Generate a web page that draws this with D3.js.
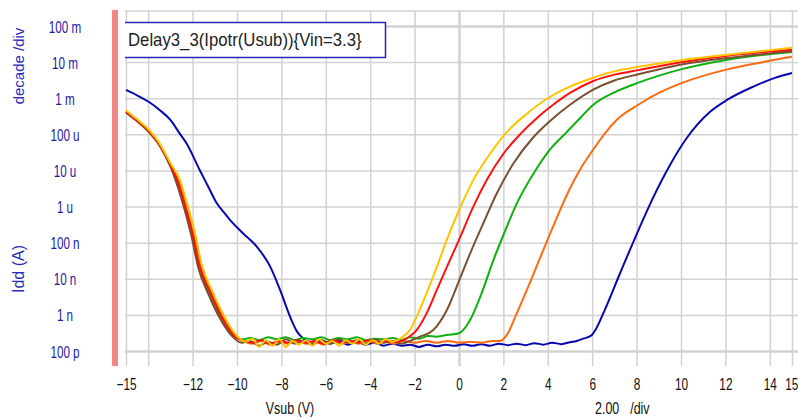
<!DOCTYPE html>
<html>
<head>
<meta charset="utf-8">
<script src="https://cdn.jsdelivr.net/npm/d3@7"></script>
<style>
  html, body { margin: 0; padding: 0; background: #fff; }
  svg { display: block; }
  text { font-family: "Liberation Sans", Arial, sans-serif; }
</style>
</head>
<body>
<svg id="chart" width="798" height="418"></svg>
<script>
// ---------------- DATA (Vsub in V, Idd in A) ----------------
const xTickValues = [-15, -12, -10, -8, -6, -4, -2, 0, 2, 4, 6, 8, 10, 12, 14, 15];
const xGridValues = [-15, -14, -12, -10, -8, -6, -4, -2, 0, 2, 4, 6, 8, 10, 12, 14, 15];
const yTickValues = [1e-10, 1e-9, 1e-8, 1e-7, 1e-6, 1e-5, 1e-4, 1e-3, 1e-2, 1e-1];
const yTickLabels = ["100 p", "1 n", "10 n", "100 n", "1 u", "10 u", "100 u", "1 m", "10 m", "100 m"];
const legendLabel = "Delay3_3(Ipotr(Usub)){Vin=3.3}";
const seriesColors = ["#0808b0", "#ff6a10", "#10b010", "#7a5030", "#ff1010", "#ffc400"];

const blueData = [
  [-15, 1.7e-3], [-14.5, 1.2e-3], [-14, 8.1e-4], [-13.5, 4.8e-4], [-13, 2.5e-4], [-12.6, 1.1e-4],
  [-12.27, 5.6e-5], [-11.67, 1.0e-5], [-11.3, 3.6e-6], [-10.91, 1.23e-6], [-10.6, 7.0e-7],
  [-10.32, 4.3e-7], [-9.72, 1.8e-7], [-9.11, 7.8e-8], [-8.51, 2.2e-8], [-8.06, 4.9e-9],
  [-7.61, 8.9e-10], [-7.3, 3.5e-10], [-7.16, 2.7e-10],
  [-7.0, 2.2e-10], [-6.6, 1.7e-10], [-6.2, 2.0e-10], [-5.8, 1.6e-10], [-5.4, 1.9e-10], [-5.0, 1.5e-10],
  [-4.6, 1.8e-10], [-4.2, 1.5e-10], [-3.8, 1.7e-10], [-3.4, 1.4e-10], [-3.0, 1.6e-10], [-2.6, 1.4e-10],
  [-2.2, 1.5e-10], [-1.8, 1.3e-10], [-1.4, 1.5e-10], [-1.0, 1.35e-10], [-0.6, 1.5e-10], [-0.2, 1.4e-10],
  [0.2, 1.55e-10], [0.6, 1.4e-10], [1.0, 1.55e-10], [1.4, 1.4e-10], [1.8, 1.6e-10], [2.2, 1.45e-10],
  [2.6, 1.6e-10], [3.0, 1.45e-10], [3.4, 1.65e-10], [3.8, 1.5e-10], [4.2, 1.7e-10], [4.6, 1.55e-10],
  [5.0, 1.75e-10], [5.3, 1.9e-10], [5.6, 2.2e-10], [5.98, 2.75e-10], [6.13, 3.7e-10], [6.5, 1.1e-9],
  [7.25, 1.4e-8], [8.08, 2.2e-7], [8.75, 1.8e-6], [9.5, 1.4e-5], [10.26, 7.9e-5], [11.31, 4.2e-4],
  [12.09, 9.1e-4], [13.26, 2.1e-3], [14.2, 3.6e-3], [15, 5.0e-3]
];

const orangeData = [
  [-15, 4.4e-4], [-14.5, 2.5e-4], [-14, 1.3e-4], [-13.5, 5.3e-5], [-13, 1.45e-5], [-12.65, 5.6e-6],
  [-12.25, 8.8e-7], [-11.95, 1.7e-7], [-11.65, 2.4e-8], [-11.15, 4.2e-9], [-10.55, 7.2e-10],
  [-10.05, 2.5e-10], [-9.65, 1.8e-10],
  [-9.3, 1.6e-10], [-8.9, 1.9e-10], [-8.5, 1.5e-10], [-8.1, 1.8e-10], [-7.7, 1.6e-10], [-7.3, 1.9e-10],
  [-6.9, 1.6e-10], [-6.5, 1.8e-10], [-6.1, 1.5e-10], [-5.7, 1.9e-10], [-5.3, 1.6e-10], [-4.9, 1.8e-10],
  [-4.5, 1.6e-10], [-4.1, 1.9e-10], [-3.7, 1.6e-10], [-3.3, 1.8e-10], [-2.9, 1.6e-10], [-2.5, 1.9e-10],
  [-2.0, 1.7e-10], [-1.5, 1.9e-10], [-1.0, 1.7e-10], [-0.5, 1.9e-10], [0.0, 1.7e-10], [0.5, 1.8e-10],
  [1.0, 1.7e-10], [1.5, 1.9e-10], [1.85, 1.9e-10], [2.15, 2.75e-10], [2.6, 1.1e-9], [3.2, 7.9e-9],
  [3.8, 6.3e-8], [4.4, 4.8e-7], [5.0, 3.2e-6], [5.45, 1.05e-5], [6.05, 3.8e-5], [6.6, 1.12e-4],
  [7.1, 2.5e-4], [8.08, 6.6e-4], [9.0, 1.4e-3], [10.08, 2.7e-3], [12.09, 6.3e-3], [13.5, 9.5e-3], [15, 1.4e-2]
];

const greenData = [
  [-15, 4.2e-4], [-14.5, 2.4e-4], [-14, 1.25e-4], [-13.5, 5.2e-5], [-13, 1.35e-5], [-12.7, 5.2e-6],
  [-12.3, 8.0e-7], [-12, 1.55e-7], [-11.7, 2.2e-8], [-11.25, 4.0e-9], [-10.65, 7.0e-10],
  [-10.15, 2.7e-10], [-9.75, 2.1e-10],
  [-9.4, 2.3e-10], [-9.0, 2.0e-10], [-8.6, 2.4e-10], [-8.2, 2.1e-10], [-7.8, 2.4e-10], [-7.4, 2.0e-10],
  [-7.0, 2.3e-10], [-6.6, 2.1e-10], [-6.2, 2.4e-10], [-5.8, 2.0e-10], [-5.4, 2.3e-10], [-5.0, 2.1e-10],
  [-4.6, 2.4e-10], [-4.2, 2.0e-10], [-3.8, 2.2e-10], [-3.4, 2.1e-10], [-3.0, 2.3e-10], [-2.6, 2.0e-10],
  [-2.2, 2.4e-10], [-1.8, 2.2e-10], [-1.4, 2.6e-10], [-1.0, 2.5e-10], [-0.5, 2.8e-10], [0.0, 3.1e-10],
  [0.5, 7.2e-10], [1.02, 4.0e-9], [1.55, 3.3e-8], [2.03, 1.8e-7], [2.6, 1.2e-6], [3.35, 8.1e-6],
  [4.05, 3.5e-5], [4.85, 1.15e-4], [5.45, 2.8e-4], [6.05, 6.6e-4], [7.0, 1.45e-3], [8.08, 2.7e-3],
  [10.08, 6.5e-3], [12.09, 1.17e-2], [15, 1.9e-2]
];

const brownData = [
  [-15, 4.0e-4], [-14.5, 2.3e-4], [-14, 1.2e-4], [-13.5, 5.0e-5], [-13, 1.3e-5], [-12.75, 5.0e-6],
  [-12.35, 7.8e-7], [-12.05, 1.5e-7], [-11.75, 2.1e-8], [-11.3, 3.9e-9], [-10.7, 6.8e-10],
  [-10.2, 2.5e-10], [-9.8, 1.7e-10],
  [-9.4, 1.9e-10], [-9.0, 1.4e-10], [-8.6, 1.8e-10], [-8.2, 1.5e-10], [-7.8, 2.1e-10], [-7.4, 1.6e-10],
  [-7.0, 1.9e-10], [-6.6, 1.5e-10], [-6.2, 2.0e-10], [-5.8, 1.6e-10], [-5.4, 2.1e-10], [-5.0, 1.7e-10],
  [-4.6, 2.0e-10], [-4.2, 1.6e-10], [-3.8, 2.1e-10], [-3.4, 1.7e-10], [-3.0, 1.9e-10], [-2.6, 1.6e-10],
  [-2.2, 1.9e-10], [-1.76, 2.5e-10], [-1.16, 3.8e-10], [-0.55, 1.35e-9], [0.01, 9.1e-9], [0.5, 5.0e-8],
  [1.09, 3.4e-7], [1.7, 2.3e-6], [2.45, 1.55e-5], [3.35, 8.3e-5], [4.05, 2.2e-4], [5.0, 6.6e-4],
  [6.05, 1.74e-3], [7.0, 3.1e-3], [8.08, 4.6e-3], [10.08, 8.7e-3], [12.09, 1.3e-2], [15, 2.0e-2]
];

const redData = [
  [-15, 4.3e-4], [-14.5, 2.4e-4], [-14, 1.3e-4], [-13.5, 5.3e-5], [-13, 1.4e-5], [-12.7, 5.5e-6],
  [-12.3, 8.5e-7], [-12, 1.7e-7], [-11.7, 2.4e-8], [-11.2, 4.1e-9], [-10.6, 7.0e-10],
  [-10.1, 2.5e-10], [-9.7, 1.9e-10],
  [-9.3, 1.7e-10], [-8.9, 2.0e-10], [-8.5, 1.6e-10], [-8.1, 1.9e-10], [-7.7, 1.7e-10], [-7.3, 2.0e-10],
  [-6.9, 1.7e-10], [-6.5, 1.9e-10], [-6.1, 1.6e-10], [-5.7, 2.0e-10], [-5.3, 1.7e-10], [-4.9, 1.9e-10],
  [-4.5, 1.7e-10], [-4.1, 2.0e-10], [-3.7, 1.7e-10], [-3.3, 1.9e-10], [-2.9, 1.8e-10], [-2.5, 2.0e-10],
  [-2.2, 2.6e-10], [-1.91, 3.8e-10], [-1.46, 1.1e-9], [-1.0, 4.9e-9], [-0.55, 2.1e-8], [0.0, 1.2e-7],
  [0.64, 9.8e-7], [1.25, 5.4e-6], [2.0, 2.9e-5], [2.75, 1.0e-4], [3.5, 2.8e-4], [4.3, 7.0e-4],
  [5.0, 1.4e-3], [6.05, 3.0e-3], [7.0, 4.5e-3], [8.08, 6.0e-3], [10.08, 1.0e-2], [12.09, 1.5e-2], [15, 2.2e-2]
];

const yellowData = [
  [-15, 4.6e-4], [-14.5, 2.6e-4], [-14, 1.4e-4], [-13.5, 5.8e-5], [-13, 1.6e-5], [-12.6, 6.0e-6],
  [-12.2, 9.5e-7], [-11.9, 1.9e-7], [-11.6, 2.6e-8], [-11.1, 4.4e-9], [-10.5, 7.5e-10],
  [-10.0, 2.6e-10], [-9.6, 1.8e-10],
  [-9.3, 2.2e-10], [-9.0, 1.3e-10], [-8.7, 2.0e-10], [-8.4, 1.4e-10], [-8.1, 2.1e-10], [-7.8, 1.3e-10],
  [-7.5, 1.9e-10], [-7.2, 1.5e-10], [-6.9, 2.0e-10], [-6.6, 1.4e-10], [-6.3, 2.1e-10], [-6.0, 1.6e-10],
  [-5.7, 1.9e-10], [-5.4, 1.4e-10], [-5.1, 2.0e-10], [-4.8, 1.6e-10], [-4.5, 2.1e-10], [-4.2, 1.5e-10],
  [-3.9, 2.0e-10], [-3.6, 1.6e-10], [-3.3, 2.1e-10], [-3.0, 1.8e-10], [-2.66, 2.2e-10], [-2.21, 3.8e-10],
  [-1.98, 7.2e-10], [-1.46, 4.0e-9], [-1.0, 2.1e-8], [-0.55, 1.2e-7], [0.0, 7.9e-7], [0.64, 5.4e-6],
  [1.4, 2.9e-5], [2.15, 1.15e-4], [3.05, 3.7e-4], [4.0, 1.0e-3], [5.0, 2.1e-3], [6.05, 3.7e-3],
  [7.0, 5.6e-3], [8.08, 7.4e-3], [10.08, 1.15e-2], [12.09, 1.6e-2], [15, 2.5e-2]
];

const seriesList = [blueData, orangeData, greenData, brownData, redData, yellowData];

// ---------------- LAYOUT ----------------
const plot = { left: 125, right: 798, top: 11, bottom: 366 };
const svg = d3.select("#chart");

const x = d3.scaleLinear().domain([-15, 15]).range([126, 792]);
const y = d3.scaleLog().domain([1e-10, 1e-1]).range([351, 26]);

// pink bar at left of plot
svg.append("rect").attr("x", 112).attr("y", 10).attr("width", 6).attr("height", plot.bottom - 10)
  .attr("fill", "#f08686");

// vertical gridlines
const gx = svg.append("g").attr("transform", `translate(0,${plot.bottom})`)
  .call(d3.axisBottom(x).tickValues(xGridValues).tickSize(-(plot.bottom - plot.top)).tickFormat(""));
gx.select(".domain").remove();
gx.selectAll("line").attr("stroke", "#d2d2d2")
  .attr("stroke-width", d => d === 0 ? 2.5 : 1.5);

// horizontal gridlines
const gy = svg.append("g").attr("transform", `translate(${plot.left},0)`)
  .call(d3.axisLeft(y).tickValues(yTickValues).tickSize(-(plot.right - plot.left)).tickFormat(""));
gy.select(".domain").remove();
gy.selectAll("line").attr("stroke", "#d2d2d2")
  .attr("stroke-width", d => (d === 1e-10 || d === 1e-1) ? 2.5 : 1.5);

// top border
svg.append("line").attr("x1", plot.left).attr("x2", plot.right).attr("y1", plot.top).attr("y2", plot.top)
  .attr("stroke", "#d2d2d2").attr("stroke-width", 1.5);

// curves
svg.append("clipPath").attr("id", "clip").append("rect")
  .attr("x", plot.left).attr("y", plot.top).attr("width", plot.right - plot.left).attr("height", plot.bottom - plot.top);
const line = d3.line().x(d => x(d[0])).y(d => y(d[1])).curve(d3.curveMonotoneX);
const curves = svg.append("g").attr("clip-path", "url(#clip)");
seriesList.forEach((data, i) => {
  curves.append("path").datum(data).attr("d", line)
    .attr("fill", "none").attr("stroke", seriesColors[i]).attr("stroke-width", 2)
    .attr("stroke-linejoin", "round");
});

// x tick labels
const ax = svg.append("g").attr("transform", `translate(0,${plot.bottom})`)
  .call(d3.axisBottom(x).tickValues(xTickValues).tickSize(0).tickFormat(d3.format("d")));
ax.select(".domain").remove();
ax.selectAll("text")
  .attr("y", 24).attr("dy", 0)
  .attr("font-size", 16).attr("fill", "#111")
  .attr("font-family", "Liberation Sans, Arial, sans-serif")
  .attr("text-anchor", d => d === 15 ? "end" : "middle")
  .attr("x", d => d === 15 ? 8 : 0)
  .attr("transform", "scale(0.74,1)");

// y tick labels
const ay = svg.append("g").attr("transform", "translate(65,0)")
  .call(d3.axisLeft(y).tickValues(yTickValues).tickSize(0).tickFormat((d, i) => yTickLabels[i]));
ay.select(".domain").remove();
ay.selectAll("text")
  .attr("x", 0).attr("y", 6).attr("dy", 0)
  .attr("text-anchor", "middle")
  .attr("font-size", 16).attr("fill", "#1c1ca4")
  .attr("font-family", "Liberation Sans, Arial, sans-serif")
  .attr("transform", "scale(0.73,1)");

// axis titles
svg.append("text").attr("transform", "translate(24,66) rotate(-90)")
  .attr("text-anchor", "middle").attr("font-size", 15).attr("fill", "#2a2ab8").text("decade /div");
svg.append("text").attr("transform", "translate(24,269) rotate(-90)")
  .attr("text-anchor", "middle").attr("font-size", 16).attr("fill", "#2a2ab8").text("Idd (A)");
svg.append("text").attr("transform", "translate(290,414) scale(0.78,1)")
  .attr("text-anchor", "middle").attr("font-size", 16).attr("fill", "#111").text("Vsub (V)");
const divLabel = svg.append("text").attr("transform", "translate(595,414) scale(0.78,1)")
  .attr("text-anchor", "start").attr("font-size", 16).attr("fill", "#111");
divLabel.append("tspan").text("2.00");
divLabel.append("tspan").attr("dx", 14).text("/div");

// legend box
const lg = svg.append("g");
lg.append("rect").attr("x", 125).attr("y", 22).attr("width", 261).attr("height", 36)
  .attr("fill", "#fff").attr("stroke", "none");
lg.append("path").attr("d", "M125,22.5 H385.5 V57.5 H125")
  .attr("fill", "none").attr("stroke", "#2626b8").attr("stroke-width", 1.5);
lg.append("text").attr("transform", "translate(128,46) scale(0.93,1)")
  .attr("font-size", 18).attr("fill", "#222").text(legendLabel);
</script>
</body>
</html>
